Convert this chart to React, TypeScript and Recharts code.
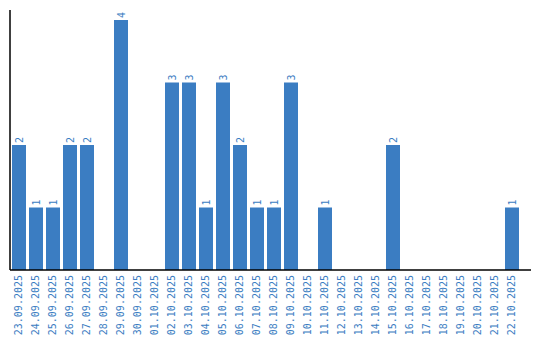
import React from "react";
import { BarChart, Bar, XAxis, YAxis, LabelList } from "recharts";

const dates = [
  "23.09.2025", "24.09.2025", "25.09.2025", "26.09.2025", "27.09.2025",
  "28.09.2025", "29.09.2025", "30.09.2025", "01.10.2025", "02.10.2025",
  "03.10.2025", "04.10.2025", "05.10.2025", "06.10.2025", "07.10.2025",
  "08.10.2025", "09.10.2025", "10.10.2025", "11.10.2025", "12.10.2025",
  "13.10.2025", "14.10.2025", "15.10.2025", "16.10.2025", "17.10.2025",
  "18.10.2025", "19.10.2025", "20.10.2025", "21.10.2025", "22.10.2025",
];
const counts = [
  2, 1, 1, 2, 2, 0, 4, 0, 0, 3,
  3, 1, 3, 2, 1, 1, 3, 0, 1, 0,
  0, 0, 2, 0, 0, 0, 0, 0, 0, 1,
];

const data = dates.map((d, i) => ({ date: d, value: counts[i] }));

const BLUE = "#3b7dc2";
const FONT = "'DejaVu Sans Mono', monospace";

const Tick = (props: any) => {
  const { x, payload } = props;
  const y = 275;
  return (
    <text
      x={x}
      y={y}
      dy="0.35em"
      transform={`rotate(-90, ${x}, ${y})`}
      textAnchor="end"
      fill={BLUE}
      fontSize={10}
      fontFamily={FONT}
    >
      {payload.value}
    </text>
  );
};

const BarLabel = (props: any) => {
  const { x, y, width, value } = props;
  if (!value) return null;
  const cx = x + width / 2;
  const cy = y - 2;
  return (
    <text
      x={cx}
      y={cy}
      dy="0.35em"
      transform={`rotate(-90, ${cx}, ${cy})`}
      textAnchor="start"
      fill={BLUE}
      fontSize={10}
      fontFamily={FONT}
    >
      {value}
    </text>
  );
};

export default function App() {
  return (
    <div style={{ position: "absolute", left: 0, top: 0, width: 540, height: 340, background: "#fff" }}>
      <BarChart
        width={540}
        height={340}
        data={data}
        margin={{ top: 10, right: 9, bottom: 0, left: 9 }}
      >
        <XAxis
          dataKey="date"
          interval={0}
          height={70}
          tickLine={false}
          axisLine={{ stroke: "#000", strokeWidth: 1.5 }}
          padding={{ left: 0, right: 11 }}
          tick={<Tick />}
        />
        <YAxis
          width={1}
          domain={[0, 4]}
          tick={false}
          tickLine={false}
          axisLine={{ stroke: "#000", strokeWidth: 1.5 }}
          padding={{ top: 10, bottom: 0 }}
        />
        <Bar dataKey="value" fill={BLUE} barSize={14} isAnimationActive={false}>
          <LabelList dataKey="value" content={<BarLabel />} />
        </Bar>
      </BarChart>
    </div>
  );
}
